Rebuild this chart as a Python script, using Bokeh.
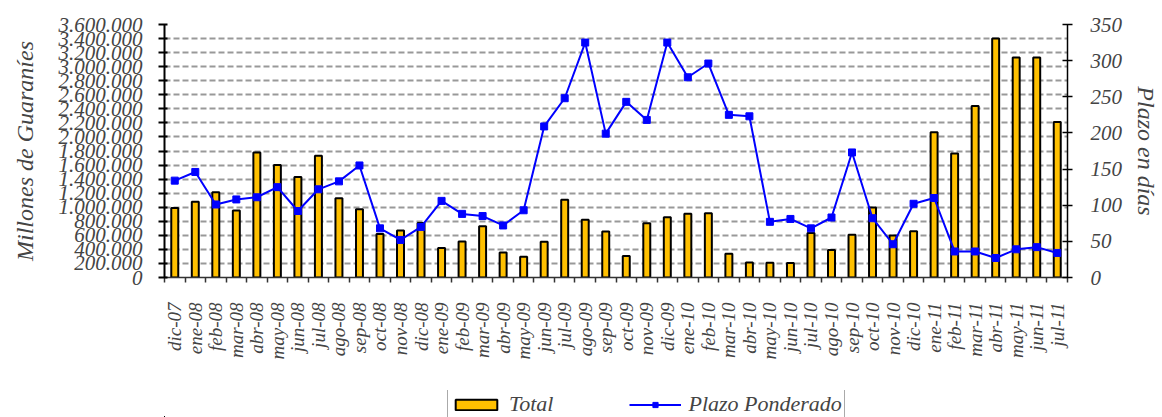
import math
from bokeh.plotting import figure
from bokeh.layouts import column
from bokeh.models import (Range1d, LinearAxis, FixedTicker, Legend, LegendItem,
                          ColumnDataSource, AllLabels, Grid)
from bokeh.embed import file_html
from bokeh.resources import INLINE

months = ["dic-07", "ene-08", "feb-08", "mar-08", "abr-08", "may-08", "jun-08", "jul-08",
          "ago-08", "sep-08", "oct-08", "nov-08", "dic-08", "ene-09", "feb-09", "mar-09",
          "abr-09", "may-09", "jun-09", "jul-09", "ago-09", "sep-09", "oct-09", "nov-09",
          "dic-09", "ene-10", "feb-10", "mar-10", "abr-10", "may-10", "jun-10", "jul-10",
          "ago-10", "sep-10", "oct-10", "nov-10", "dic-10", "ene-11", "feb-11", "mar-11",
          "abr-11", "may-11", "jun-11", "jul-11"]

total = [990000, 1077000, 1214000, 953000, 1777000, 1600000, 1430000, 1734000,
         1129000, 971000, 620000, 667000, 777000, 420000, 514000, 729000,
         357000, 296000, 510000, 1106000, 820000, 653000, 306000, 771000,
         857000, 906000, 914000, 339000, 214000, 210000, 205000, 634000,
         391000, 610000, 996000, 596000, 657000, 2067000, 1763000, 2439000,
         3400000, 3129000, 3129000, 2214000]

plazo = [134, 146, 101, 108, 111, 125, 92, 122, 133, 155, 68, 52, 70, 106, 88, 85,
         72, 93, 209, 248, 325, 199, 243, 218, 325, 277, 296, 225, 223, 77, 81, 68,
         83, 173, 82, 46, 102, 110, 36, 36, 27, 39, 42, 34]

left_ticks = list(range(0, 3600001, 200000))
right_ticks = list(range(0, 351, 50))

FONT = "Liberation Serif"

n = len(months)
xs = [i + 0.5 for i in range(n)]
src = ColumnDataSource(dict(x=xs, total=total, plazo=plazo, month=months))

p = figure(width=1162, height=390, output_backend="svg", toolbar_location=None,
           x_range=Range1d(0, n), y_range=Range1d(0, 3600000),
           x_axis_type=None, y_axis_type=None,
           min_border_left=164, min_border_right=92, min_border_top=24, min_border_bottom=113)
p.outline_line_color = None
p.extra_y_ranges = {"dias": Range1d(0, 350)}

# grid
lt = FixedTicker(ticks=left_ticks)
p.add_layout(Grid(dimension=1, ticker=lt, grid_line_color="#999999", grid_line_width=2,
                  grid_line_dash="6 3"))

# left axis
yl = LinearAxis(ticker=lt, axis_label="Millones de Guaraníes",
                major_label_overrides={v: f"{v:,}".replace(",", ".") for v in left_ticks},
                major_label_policy=AllLabels())
yl.axis_line_width = 2
yl.major_tick_in = 3
yl.major_tick_out = 6
yl.major_tick_line_width = 2
yl.minor_tick_line_color = None
yl.major_label_standoff = 16
yl.major_label_text_font = FONT
yl.major_label_text_font_style = "italic"
yl.major_label_text_font_size = "21px"
yl.axis_label_text_font = FONT
yl.axis_label_text_font_style = "italic"
yl.axis_label_text_font_size = "24px"
yl.axis_label_standoff = 18
p.add_layout(yl, "left")

# right axis
yr = LinearAxis(y_range_name="dias", ticker=FixedTicker(ticks=right_ticks),
                axis_label="Plazo en días", major_label_policy=AllLabels())
yr.axis_line_width = 1.5
yr.major_tick_in = 5
yr.major_tick_out = 5
yr.major_tick_line_width = 1.5
yr.minor_tick_line_color = None
yr.major_label_standoff = 18
yr.major_label_text_font = FONT
yr.major_label_text_font_style = "italic"
yr.major_label_text_font_size = "21px"
yr.axis_label_text_font = FONT
yr.axis_label_text_font_style = "italic"
yr.axis_label_text_font_size = "24px"
yr.axis_label_standoff = 8
p.add_layout(yr, "right")

# bottom axis: labels at category centres, ticks at category boundaries
xa = LinearAxis(ticker=FixedTicker(ticks=xs, minor_ticks=list(range(n + 1))),
                major_label_overrides={x: m for x, m in zip(xs, months)},
                major_label_orientation=math.pi / 2, major_label_policy=AllLabels())
xa.axis_line_color = "#333333"
xa.axis_line_width = 1.5
xa.major_tick_in = 0
xa.major_tick_out = 0
xa.minor_tick_in = 0
xa.minor_tick_out = 5
xa.minor_tick_line_color = "#333333"
xa.minor_tick_line_width = 1.5
xa.major_label_standoff = 20
xa.major_label_text_font = FONT
xa.major_label_text_font_style = "italic"
xa.major_label_text_font_size = "19px"
p.add_layout(xa, "below")

bar_style = dict(fill_color="#FFC000", line_color="black", line_width=2)
line_style = dict(line_color="#0000FF", line_width=2)
mark_style = dict(marker="square", size=7, fill_color="#0000FF", line_color="#0000FF")

p.vbar(x="x", top="total", width=0.34, source=src, **bar_style)
p.line(x="x", y="plazo", source=src, y_range_name="dias", **line_style)
p.scatter(x="x", y="plazo", source=src, y_range_name="dias", **mark_style)

# legend strip below the chart (its glyphs lie outside its visible ranges)
lf = figure(width=1162, height=27, output_backend="svg", toolbar_location=None,
            x_range=Range1d(1000, 1001), y_range=Range1d(1e9, 1e9 + 1),
            x_axis_type=None, y_axis_type=None,
            min_border_left=0, min_border_right=0, min_border_top=0, min_border_bottom=0)
lf.outline_line_color = None
lf.grid.visible = False
lb = lf.vbar(x="x", top="total", width=0.34, source=src, **bar_style)
ll = lf.line(x="x", y="plazo", source=src, **line_style)
lm = lf.scatter(x="x", y="plazo", source=src, **mark_style)

legend = Legend(items=[LegendItem(label="Total", renderers=[lb]),
                       LegendItem(label="Plazo Ponderado", renderers=[ll, lm])],
                location=(283, -3), orientation="horizontal")
legend.label_text_font = FONT
legend.label_text_font_style = "italic"
legend.label_text_font_size = "22px"
legend.glyph_width = 52
legend.glyph_height = 13
legend.label_standoff = 7
legend.spacing = 76
legend.padding = 2
legend.margin = 0
legend.border_line_color = "#555555"
legend.border_line_width = 1
legend.background_fill_alpha = 1
lf.add_layout(legend, "center")

open("out.html", "w").write(file_html(column(p, lf), INLINE))
